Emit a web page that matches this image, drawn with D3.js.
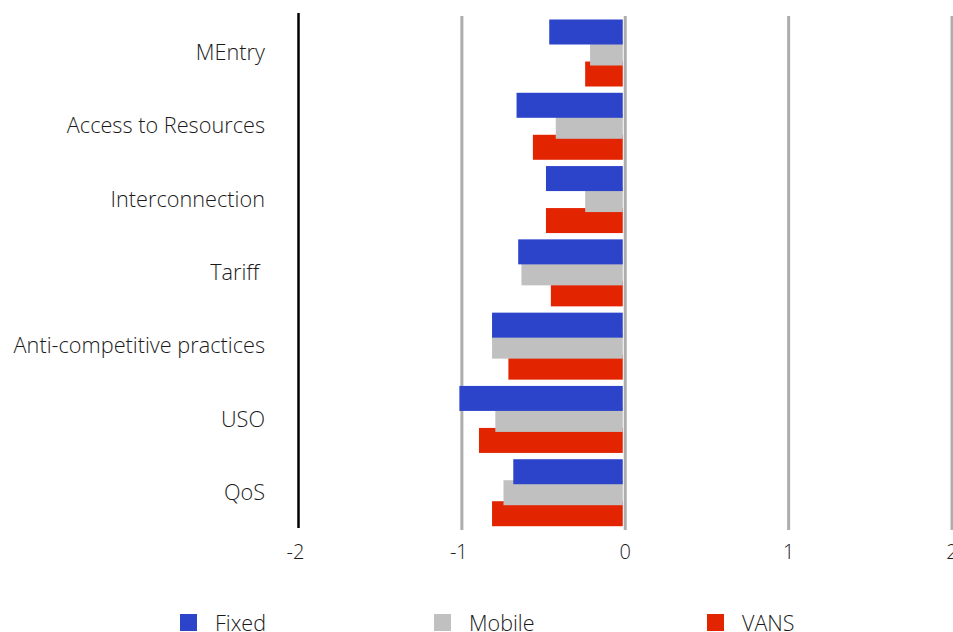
<!DOCTYPE html>
<html>
<head>
<meta charset="utf-8">
<script src="https://cdn.jsdelivr.net/npm/d3@7"></script>
<style>
  html, body { margin: 0; padding: 0; background: #fff; }
  svg { display: block; font-family: "Open Sans", "Segoe UI", sans-serif; font-weight: 300; }
  .cat { white-space: pre; }
</style>
</head>
<body>
<svg id="chart" width="953" height="632"></svg>
<script>
// Categories, top to bottom
const categories = ["MEntry", "Access to Resources", "Interconnection", "Tariff ", "Anti-competitive practices", "USO", "QoS"];
const seriesNames = ["Fixed", "Mobile", "VANS"];
const fixedValues  = [-0.45, -0.65, -0.47, -0.64, -0.80, -1.00, -0.67];
const mobileValues = [-0.20, -0.41, -0.23, -0.62, -0.80, -0.78, -0.73];
const vansValues   = [-0.23, -0.55, -0.47, -0.44, -0.70, -0.88, -0.80];
const xTicks = [-2, -1, 0, 1, 2];
const colors = ["#2c44c9", "#c0c0c0", "#e22400"];

const svg = d3.select("#chart");

const x = d3.scaleLinear().domain([-2, 2]).range([298.5, 952]);
const y = d3.scaleBand().domain(categories).range([17, 530]).paddingInner(0).paddingOuter(0);

const barH = 25, barStep = 21, groupOffset = 2.5;
const series = [fixedValues, mobileValues, vansValues];

// Vertical gridlines (excluding the axis at -2)
svg.append("g").selectAll("line")
  .data(xTicks.filter(t => t !== -2))
  .join("line")
  .attr("x1", d => x(d)).attr("x2", d => x(d))
  .attr("y1", 16).attr("y2", 530)
  .attr("stroke", "#adadad").attr("stroke-width", 3);

// Bars: VANS drawn first, Mobile over it, Fixed on top
const barsG = svg.append("g").attr("transform", "translate(-2.5,0)");
[2, 1, 0].forEach(si => {
  barsG.append("g").selectAll("rect")
    .data(categories.map((c, i) => ({ c, v: series[si][i] })))
    .join("rect")
    .attr("x", d => x(Math.min(0, d.v)))
    .attr("width", d => Math.abs(x(d.v) - x(0)))
    .attr("y", d => y(d.c) + groupOffset + si * barStep)
    .attr("height", barH)
    .attr("fill", colors[si]);
});

// Left axis line at -2
svg.append("line")
  .attr("x1", x(-2)).attr("x2", x(-2))
  .attr("y1", 13).attr("y2", 528)
  .attr("stroke", "#000").attr("stroke-width", 2.5);

// Category labels
svg.append("g").selectAll("text")
  .data(categories)
  .join("text")
  .attr("class", "cat")
  .attr("x", 265)
  .attr("y", d => y(d) + y.bandwidth() / 2 - 2)
  .attr("text-anchor", "end")
  .attr("dominant-baseline", "central")
  .attr("font-size", 21.7)
  .attr("fill", "#1a1a1a")
  .text(d => d);

// X tick labels
svg.append("g").selectAll("text")
  .data(xTicks)
  .join("text")
  .attr("x", d => x(d) - (d < 0 ? 3 : 0))
  .attr("y", 551)
  .attr("text-anchor", "middle")
  .attr("dominant-baseline", "central")
  .attr("font-size", 20)
  .attr("fill", "#1a1a1a")
  .text(d => d < 0 ? "-" + Math.abs(d) : String(d));

// Legend
const legendX = [180, 434, 707];
const lg = svg.append("g").selectAll("g")
  .data(seriesNames)
  .join("g")
  .attr("transform", (d, i) => `translate(${legendX[i]},614)`);
lg.append("rect").attr("width", 17).attr("height", 17).attr("fill", (d, i) => colors[i]);
lg.append("text")
  .attr("x", 35).attr("y", 8)
  .attr("dominant-baseline", "central")
  .attr("font-size", 21.5)
  .attr("fill", "#1a1a1a")
  .text(d => d);
</script>
</body>
</html>
